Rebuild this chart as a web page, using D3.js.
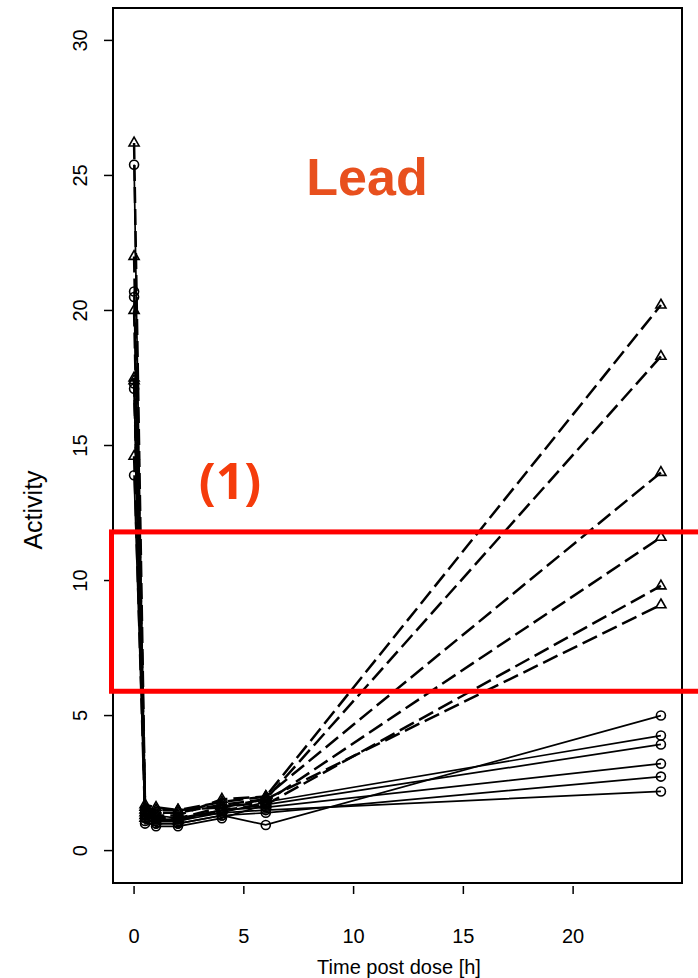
<!DOCTYPE html>
<html>
<head>
<meta charset="utf-8">
<script src="https://cdn.jsdelivr.net/npm/d3@7"></script>
<style>
  body { margin: 0; background: #fff; }
  svg { display: block; font-family: "Liberation Sans", Arial, sans-serif; }
</style>
</head>
<body>
<svg id="chart" width="698" height="978"></svg>
<script>
// Sampling times (h)
const times = [0, 0.5, 1, 2, 4, 6, 24];

// Triangle group (dashed lines), one array per subject
const triangleSeries = [
  [26.2, 1.6, 1.5, 1.5, 1.8, 2.0, 20.2],
  [22.0, 1.5, 1.4, 1.4, 1.7, 1.9, 18.3],
  [20.0, 1.4, 1.3, 1.3, 1.9, 2.0, 14.0],
  [17.4, 1.3, 1.2, 1.2, 1.6, 1.8, 11.6],
  [14.6, 1.2, 1.1, 1.1, 1.5, 1.7, 9.8],
  [17.5, 1.7, 1.6, 1.5, 1.6, 1.9, 9.1]
];

// Circle group (solid lines)
const circleSeries = [
  [25.4, 1.2, 1.0, 1.0, 1.3, 0.95, 5.0],
  [20.7, 1.4, 1.2, 1.1, 1.4, 1.8, 4.26],
  [17.3, 1.1, 0.9, 0.9, 1.2, 1.7, 3.93],
  [13.9, 1.3, 1.1, 1.2, 1.5, 1.6, 3.22],
  [17.1, 1.0, 1.0, 1.0, 1.3, 1.4, 2.74],
  [20.5, 1.5, 1.3, 1.2, 1.4, 1.5, 2.19]
];

const xTicks = [0, 5, 10, 15, 20];
const yTicks = [0, 5, 10, 15, 20, 25, 30];

// Highlight box (activity range)
const boxRange = [5.9, 11.8];

const svg = d3.select("#chart");

// R-style plot region: xlim c(0,24), ylim c(0,30) with 4% padding
const x = d3.scaleLinear().domain([-0.96, 24.96]).range([113, 682]);
const y = d3.scaleLinear().domain([-1.2, 31.2]).range([883, 8]);

// Axis ticks and labels
const xAxis = svg.append("g");
xAxis.selectAll("line")
  .data(xTicks)
  .join("line")
  .attr("x1", (d) => x(d)).attr("x2", (d) => x(d))
  .attr("y1", 886).attr("y2", 894)
  .attr("stroke", "#000").attr("stroke-width", 1.5);
xAxis.selectAll("text")
  .data(xTicks)
  .join("text")
  .attr("x", (d) => x(d))
  .attr("y", 943)
  .attr("text-anchor", "middle")
  .attr("font-size", 20)
  .text((d) => d);

const yAxis = svg.append("g");
yAxis.selectAll("line")
  .data(yTicks)
  .join("line")
  .attr("x1", 104).attr("x2", 113)
  .attr("y1", (d) => y(d)).attr("y2", (d) => y(d))
  .attr("stroke", "#000").attr("stroke-width", 1.5);
yAxis.selectAll("text")
  .data(yTicks)
  .join("text")
  .attr("transform", (d) => `translate(87,${y(d)}) rotate(-90)`)
  .attr("text-anchor", "middle")
  .attr("font-size", 20)
  .text((d) => d);

// Axis titles
svg.append("text")
  .attr("x", 399).attr("y", 974)
  .attr("text-anchor", "middle")
  .attr("font-size", 20)
  .text("Time post dose [h]");

svg.append("text")
  .attr("transform", "translate(42,510) rotate(-90)")
  .attr("text-anchor", "middle")
  .attr("font-size", 25)
  .text("Activity");

// Plot box
svg.append("rect")
  .attr("x", 113).attr("y", 8)
  .attr("width", 682 - 113).attr("height", 883 - 8)
  .attr("fill", "none")
  .attr("stroke", "#000").attr("stroke-width", 2);

const line = d3.line()
  .x((d, i) => x(times[i]))
  .y((d) => y(d));

const plot = svg.append("g");

// Solid lines with open circles
plot.selectAll("path.circ")
  .data(circleSeries)
  .join("path")
  .attr("class", "circ")
  .attr("d", line)
  .attr("fill", "none")
  .attr("stroke", "#000")
  .attr("stroke-width", 1.7);

// Dashed lines with open triangles
plot.selectAll("path.tri")
  .data(triangleSeries)
  .join("path")
  .attr("class", "tri")
  .attr("d", line)
  .attr("fill", "none")
  .attr("stroke", "#000")
  .attr("stroke-width", 2.5)
  .attr("stroke-dasharray", "16,6");

const circlePoints = circleSeries.flatMap((s) => s.map((v, i) => [times[i], v]));
const trianglePoints = triangleSeries.flatMap((s) => s.map((v, i) => [times[i], v]));

plot.selectAll("circle")
  .data(circlePoints)
  .join("circle")
  .attr("cx", (d) => x(d[0]))
  .attr("cy", (d) => y(d[1]))
  .attr("r", 4.5)
  .attr("fill", "none")
  .attr("stroke", "#000")
  .attr("stroke-width", 1.6);

const triangle = d3.symbol().type(d3.symbolTriangle).size(44);
plot.selectAll("path.pt")
  .data(trianglePoints)
  .join("path")
  .attr("class", "pt")
  .attr("d", triangle)
  .attr("transform", (d) => `translate(${x(d[0])},${y(d[1])})`)
  .attr("fill", "none")
  .attr("stroke", "#000")
  .attr("stroke-width", 1.6);

// Red highlight box (runs off the right edge)
svg.append("rect")
  .attr("x", 111.5)
  .attr("y", y(boxRange[1]))
  .attr("width", 700)
  .attr("height", y(boxRange[0]) - y(boxRange[1]))
  .attr("fill", "none")
  .attr("stroke", "#ff0000")
  .attr("stroke-width", 5);

// Annotations
svg.append("text")
  .attr("x", 367).attr("y", 195)
  .attr("text-anchor", "middle")
  .attr("font-size", 52)
  .attr("font-weight", "bold")
  .attr("fill", "#e8501e")
  .text("Lead");

svg.append("text")
  .attr("x", 230).attr("y", 499)
  .attr("text-anchor", "middle")
  .attr("font-family", "'Open Sans', sans-serif")
  .attr("font-size", 50)
  .attr("font-weight", "bold")
  .attr("fill", "#f53c0c")
  .text("(1)");
</script>
</body>
</html>
